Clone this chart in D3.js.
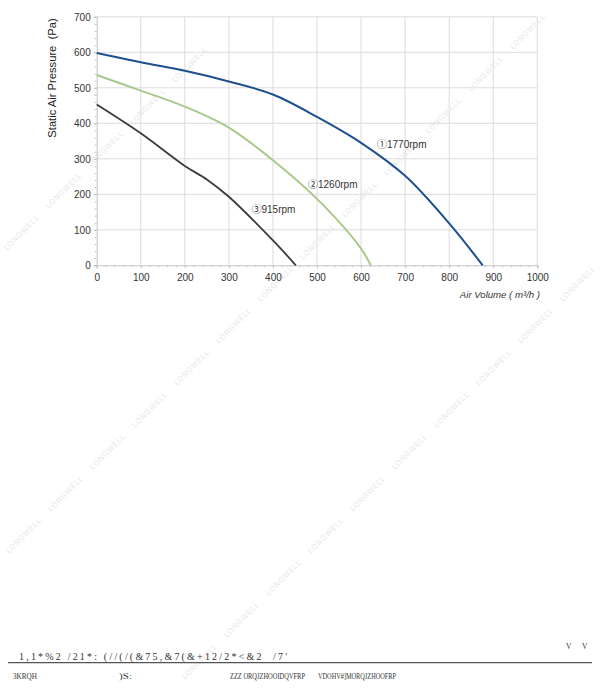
<!DOCTYPE html>
<html><head><meta charset="utf-8">
<script src="https://cdn.jsdelivr.net/npm/d3@7"></script>
<style>body{margin:0;background:#fff}svg{display:block}</style>
</head><body>
<svg id="c" width="600" height="695"></svg>
<script>
// ---- data ----
const xTicks = [0,100,200,300,400,500,600,700,800,900,1000];
const yTicks = [0,100,200,300,400,500,600,700];
const flow1770 = [0,100,200,300,400,500,600,700,800,876];
const pres1770 = [598,572,548,518,481,418,345,252,118,0];
const flow1260 = [0,100,200,300,400,500,600,622];
const pres1260 = [536,492,447,388,296,187,47,0];
const flow915 = [0,100,200,250,300,400,452];
const pres915 = [453,372,280,242,193,70,0];
const seriesNames = ["\u24601770rpm","\u24611260rpm","\u2462915rpm"];
const seriesColors = ["#1e4f8e","#a8c88c","#3c3c3c"];
const watermarkText = "LONGWELL";
const footerLine1 = "1,1*%2 /21*: (//(/(&75,&7(&+12/2*<&2  /7'";
const footerLine2 = ["3KRQH", ")S:", "ZZZ ORQJZHOOIDQVFRP", "VDOHV#]MORQJZHOOFRP"];

// ---- scales ----
const svg = d3.select("#c");
const x = d3.scaleLinear().domain([0,1000]).range([96.7,537.3]);
const y = d3.scaleLinear().domain([0,700]).range([265.3,16.8]);
const minorX = d3.range(0,1001,20);
const minorY = d3.range(0,701,20);

// grid
const g = svg.append("g");
g.selectAll(".vg").data(xTicks.slice(1)).join("line")
  .attr("x1",d=>x(d)).attr("x2",d=>x(d)).attr("y1",y(0)).attr("y2",y(700))
  .attr("stroke","#dcdcdc").attr("stroke-width",1);
g.selectAll(".hg").data(yTicks.slice(1)).join("line")
  .attr("x1",x(0)).attr("x2",x(1000)).attr("y1",d=>y(d)).attr("y2",d=>y(d))
  .attr("stroke","#dcdcdc").attr("stroke-width",1);

// watermarks
const wm = svg.append("g").attr("fill","#e7e7e7").attr("font-family","DejaVu Sans")
  .attr("font-size",7.5).attr("letter-spacing",0.6);
const bands = [{c:255,x0:22,x1:230},{c:560,x0:24,x1:540},{c:862,x0:200,x1:580}];
bands.forEach(b=>{
  for(let cx=b.x0; cx<=b.x1; cx+=42){
    const cy=b.c-cx;
    wm.append("text").attr("transform",`translate(${cx},${cy}) rotate(-45)`)
      .attr("text-anchor","middle").attr("dominant-baseline","middle").text(watermarkText);
  }
});

// axes
const ax = svg.append("g").attr("transform",`translate(0,${y(0)})`)
  .call(d3.axisBottom(x).tickValues(xTicks).tickFormat(d3.format("d")).tickSize(3).tickPadding(6));
ax.select(".domain").attr("stroke","#c4c4c4");
ax.selectAll(".tick line").attr("stroke","#c4c4c4");
ax.selectAll(".tick text").attr("font-family","Liberation Sans, Arial").attr("font-size",10).attr("fill","#333");
svg.append("g").attr("transform",`translate(0,${y(0)})`)
  .call(d3.axisBottom(x).tickValues(minorX).tickSize(2).tickFormat(""))
  .call(s=>{s.select(".domain").remove(); s.selectAll("line").attr("stroke","#c4c4c4");});

const ay = svg.append("g").attr("transform",`translate(${x(0)},0)`)
  .call(d3.axisLeft(y).tickValues(yTicks).tickFormat(d3.format("d")).tickSize(3).tickPadding(3));
ay.select(".domain").attr("stroke","#c4c4c4");
ay.selectAll(".tick line").attr("stroke","#c4c4c4");
ay.selectAll(".tick text").attr("font-family","Liberation Sans, Arial").attr("font-size",10).attr("fill","#333");
svg.append("g").attr("transform",`translate(${x(0)},0)`)
  .call(d3.axisLeft(y).tickValues(minorY).tickSize(2).tickFormat(""))
  .call(s=>{s.select(".domain").remove(); s.selectAll("line").attr("stroke","#c4c4c4");});

// axis titles
svg.append("text").attr("transform",`translate(56,78) rotate(-90)`)
  .attr("text-anchor","middle").attr("font-family","Liberation Sans, Arial")
  .attr("font-size",11.2).attr("fill","#222").attr("xml:space","preserve")
  .text("Static Air Pressure  (Pa)");
svg.append("text").attr("x",540).attr("y",298).attr("text-anchor","end")
  .attr("font-family","Liberation Sans, Arial").attr("font-style","italic")
  .attr("font-size",9.6).attr("fill","#333").text("Air Volume ( m\u00b3/h )");

// curves
const line = d3.line().x(d=>x(d[0])).y(d=>y(d[1])).curve(d3.curveCatmullRom.alpha(0.5));
const series = [
  d3.zip(flow1770,pres1770),
  d3.zip(flow1260,pres1260),
  d3.zip(flow915,pres915)
];
const widths=[2,2,1.8];
series.forEach((s,i)=>{
  svg.append("path").datum(s).attr("d",line).attr("fill","none")
    .attr("stroke",seriesColors[i]).attr("stroke-width",widths[i]);
});

// curve labels
const labelPos=[[377,145],[308,185],[251.5,210]];
seriesNames.forEach((t,i)=>{
  svg.append("text").attr("x",labelPos[i][0]).attr("y",labelPos[i][1])
    .attr("dominant-baseline","middle")
    .attr("font-family","Liberation Sans, Arial, Noto Sans CJK SC")
    .attr("font-size",10).attr("fill","#333").text(t);
});

// footer
svg.append("text").attr("x",19).attr("y",659.5).attr("font-family","Liberation Serif")
  .attr("font-size",10).attr("fill","#333").attr("textLength",268)
  .attr("lengthAdjust","spacing").attr("xml:space","preserve").text(footerLine1);
svg.append("text").attr("x",566).attr("y",649).attr("font-family","Liberation Serif")
  .attr("font-size",7.5).attr("fill","#333").text("V");
svg.append("text").attr("x",582).attr("y",649).attr("font-family","Liberation Serif")
  .attr("font-size",7.5).attr("fill","#333").text("V");
svg.append("line").attr("x1",8).attr("x2",592).attr("y1",662.7).attr("y2",662.7)
  .attr("stroke","#555").attr("stroke-width",1.3);
const f2x=[13,119,230,318], f2w=[24,13,75,78];
footerLine2.forEach((t,i)=>{
  svg.append("text").attr("x",f2x[i]).attr("y",679).attr("font-family","Liberation Serif")
    .attr("font-size",7.5).attr("fill","#333").attr("textLength",f2w[i])
    .attr("lengthAdjust","spacingAndGlyphs").text(t);
});
</script>
</body></html>
